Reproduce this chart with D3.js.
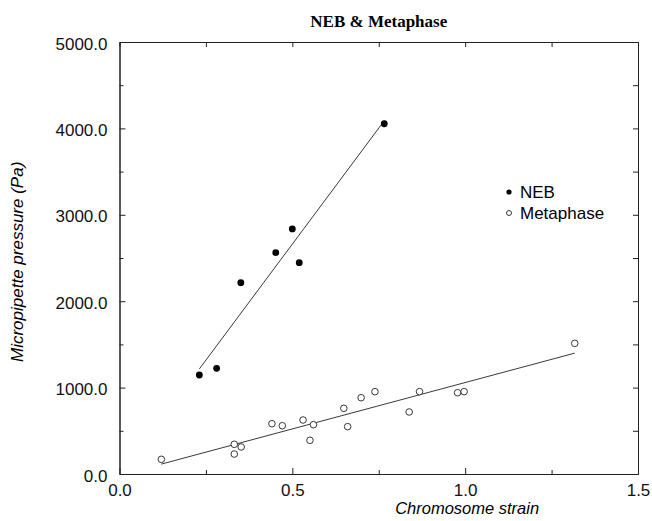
<!DOCTYPE html>
<html lang="en">
<head>
<meta charset="UTF-8">
<title>NEB & Metaphase</title>
<script src="https://d3js.org/d3.v7.min.js"></script>
<style>
  body { margin: 0; background: #fff; }
  svg { display: block; }
  .tick text { font-family: "Liberation Sans", Arial, sans-serif; font-size: 17px; fill: #111; }
</style>
</head>
<body>
<div id="chart"></div>
<script>
// data
var nebStrain    = [0.231, 0.281, 0.351, 0.452, 0.500, 0.520, 0.766]
var nebPressure  = [1146, 1223, 2214, 2562, 2836, 2446, 4054]
var metaStrain   = [0.121, 0.332, 0.332, 0.352, 0.441, 0.471, 0.531, 0.551, 0.561,
                    0.649, 0.660, 0.699, 0.739, 0.838, 0.868, 0.978, 0.997, 1.317]
var metaPressure = [170, 344, 231, 313, 582, 559, 625, 390, 571,
                    760, 548, 883, 953, 718, 953, 941, 953, 1512]
var xTicks = [0, 0.5, 1.0, 1.5]
var xMinor = [0.25, 0.75, 1.25]
var yTicks = [0, 1000, 2000, 3000, 4000, 5000]
var yMinor = [500, 1500, 2500, 3500, 4500]

var W = 652, H = 521
var margin = {top: 42, right: 14, bottom: 47, left: 119.5}
var width = W - margin.left - margin.right
var height = H - margin.top - margin.bottom

var svg = d3.select("#chart").append("svg")
    .attr("width", W)
    .attr("height", H)

var g = svg.append("g")
    .attr("transform", "translate(" + margin.left + "," + margin.top + ")")

var x = d3.scaleLinear().domain([0, 1.5]).range([0, width])
var y = d3.scaleLinear().domain([0, 5000]).range([height, 0])

// axes: ticks point inward on all four sides
function styleAxis(sel) {
  sel.select(".domain").attr("stroke", "#222").attr("stroke-width", 1)
  sel.selectAll(".tick line").attr("stroke", "#222")
}

g.append("g").attr("transform", "translate(0," + height + ")")
  .call(d3.axisBottom(x).tickValues(xTicks).tickSize(-6).tickSizeOuter(0)
        .tickPadding(10).tickFormat(d3.format(".1f")))
  .call(styleAxis)
g.append("g").attr("transform", "translate(0," + height + ")")
  .call(d3.axisBottom(x).tickValues(xMinor).tickSize(-4).tickSizeOuter(0).tickFormat(""))
  .call(styleAxis)
g.append("g")
  .call(d3.axisTop(x).tickValues(xTicks.concat(xMinor)).tickSize(-5).tickSizeOuter(0).tickFormat(""))
  .call(styleAxis)

g.append("g")
  .call(d3.axisLeft(y).tickValues(yTicks).tickSize(-6).tickSizeOuter(0)
        .tickPadding(12).tickFormat(d3.format(".1f")))
  .call(styleAxis)
  .selectAll(".tick text").attr("dy", "0.42em")
g.append("g")
  .call(d3.axisLeft(y).tickValues(yMinor).tickSize(-4).tickSizeOuter(0).tickFormat(""))
  .call(styleAxis)
g.append("g").attr("transform", "translate(" + width + ",0)")
  .call(d3.axisRight(y).tickValues(yTicks.concat(yMinor)).tickSize(-5).tickSizeOuter(0).tickFormat(""))
  .call(styleAxis)

// least squares fit line over the data range
function fit(xs, ys) {
  var mx = d3.mean(xs), my = d3.mean(ys)
  var sxy = d3.sum(xs, function(v, i) { return (v - mx) * (ys[i] - my) })
  var sxx = d3.sum(xs, function(v) { return (v - mx) * (v - mx) })
  var b = sxy / sxx, a = my - b * mx
  var x0 = d3.min(xs), x1 = d3.max(xs)
  return [[x0, a + b * x0], [x1, a + b * x1]]
}

var line = d3.line().x(function(d) { return x(d[0]) }).y(function(d) { return y(d[1]) })

g.append("path").datum(fit(nebStrain, nebPressure))
  .attr("d", line).attr("fill", "none").attr("stroke", "#222").attr("stroke-width", 0.9)
g.append("path").datum(fit(metaStrain, metaPressure))
  .attr("d", line).attr("fill", "none").attr("stroke", "#222").attr("stroke-width", 0.9)

g.selectAll("circle.neb")
  .data(nebStrain.map(function(v, i) { return [v, nebPressure[i]] }))
  .enter().append("circle")
    .attr("class", "neb")
    .attr("cx", function(d) { return x(d[0]) })
    .attr("cy", function(d) { return y(d[1]) })
    .attr("r", 3.4)
    .attr("fill", "#000")

g.selectAll("circle.meta")
  .data(metaStrain.map(function(v, i) { return [v, metaPressure[i]] }))
  .enter().append("circle")
    .attr("class", "meta")
    .attr("cx", function(d) { return x(d[0]) })
    .attr("cy", function(d) { return y(d[1]) })
    .attr("r", 3.3)
    .attr("fill", "#fff")
    .attr("stroke", "#222")
    .attr("stroke-width", 0.9)

// legend
var legend = svg.append("g").attr("transform", "translate(509,192)")
legend.append("circle").attr("r", 2.6).attr("fill", "#000")
legend.append("circle").attr("cy", 21).attr("r", 2.5)
  .attr("fill", "#fff").attr("stroke", "#222").attr("stroke-width", 0.9)
legend.append("text").attr("x", 11).attr("y", 6)
  .style("font-family", "Liberation Sans, Arial, sans-serif").style("font-size", "17px")
  .text("NEB")
legend.append("text").attr("x", 11).attr("y", 27)
  .style("font-family", "Liberation Sans, Arial, sans-serif").style("font-size", "17px")
  .text("Metaphase")

// titles
svg.append("text")
  .attr("x", margin.left + width / 2).attr("y", 26.5)
  .attr("text-anchor", "middle")
  .style("font-family", "Liberation Serif, Times New Roman, serif")
  .style("font-weight", "bold").style("font-size", "17px")
  .text("NEB & Metaphase")

svg.append("text")
  .attr("x", x(1.0) + margin.left + 2).attr("y", 514)
  .attr("text-anchor", "middle")
  .style("font-family", "Liberation Sans, Arial, sans-serif")
  .style("font-style", "italic").style("font-size", "16.5px")
  .text("Chromosome strain")

svg.append("text")
  .attr("transform", "translate(23,362) rotate(-90)")
  .style("font-family", "Liberation Sans, Arial, sans-serif")
  .style("font-style", "italic").style("font-size", "17px")
  .text("Micropipette pressure (Pa)")
</script>
</body>
</html>
